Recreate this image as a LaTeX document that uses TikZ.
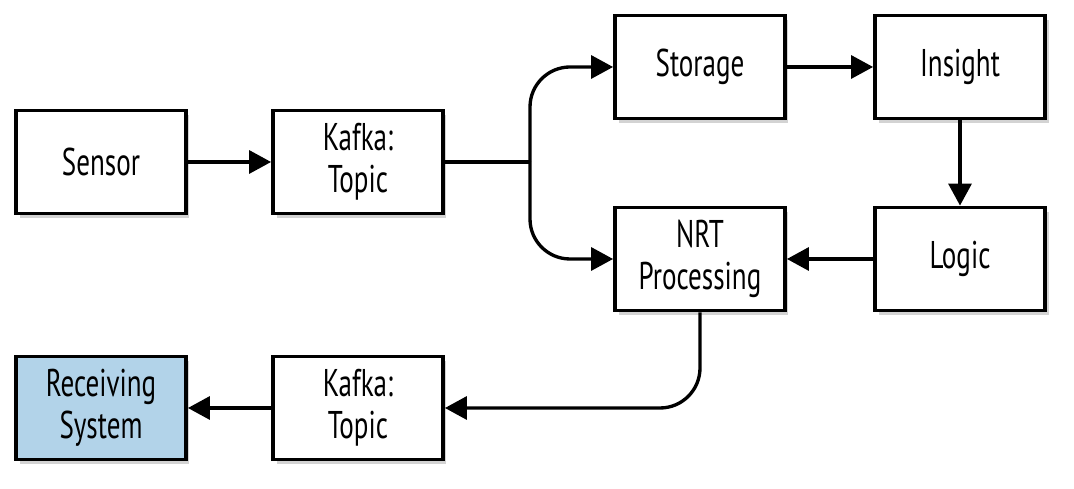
\documentclass[tikz,border=0pt]{standalone}
\usepackage{fontspec}
\setmainfont{PT Sans}[FakeStretch=0.7]
\usetikzlibrary{arrows.meta,shadows}
\definecolor{recvblue}{RGB}{178,211,233}

\begin{document}
\begin{tikzpicture}[x=0.02cm,y=0.02cm,
  box/.style={draw,line width=2.2pt,fill=white,minimum width=3.4cm,minimum height=2.06cm,
    align=center,font=\fontsize{22}{24}\selectfont,
    drop shadow={shadow xshift=0.07cm,shadow yshift=-0.09cm,opacity=0.35}},
  flow/.style={line width=1.9pt,-{Triangle[length=0.44cm,width=0.46cm]}}]
  \useasboundingbox (0,0) rectangle (1074,489);
  % Boxes
  \node[box] (sensor) at (101,327) {Sensor};
  \node[box] (kafkain) at (358,327) {Kafka:\\Topic};
  \node[box] (storage) at (700,422) {Storage};
  \node[box] (insight) at (960,422) {Insight};
  \node[box] (nrt) at (700,230) {NRT\\Processing};
  \node[box] (logic) at (960,230) {Logic};
  \node[box] (kafkaout) at (358,81) {Kafka:\\Topic};
  \node[box,fill=recvblue] (receiver) at (101,81) {Receiving\\System};
  % Connectors
  \coordinate (split) at (530,327);
  \draw[flow] (sensor) -- (kafkain);
  \draw[line width=1.9pt] (kafkain) -- (split);
  \draw[flow,rounded corners=0.8cm] (split) |- (storage);
  \draw[flow,rounded corners=0.8cm] (split) |- (nrt);
  \draw[flow] (storage) -- (insight);
  \draw[flow] (insight) -- (logic);
  \draw[flow] (logic) -- (nrt);
  \draw[flow,rounded corners=0.8cm] (nrt) |- (kafkaout);
  \draw[flow] (kafkaout) -- (receiver);
\end{tikzpicture}
\end{document}
